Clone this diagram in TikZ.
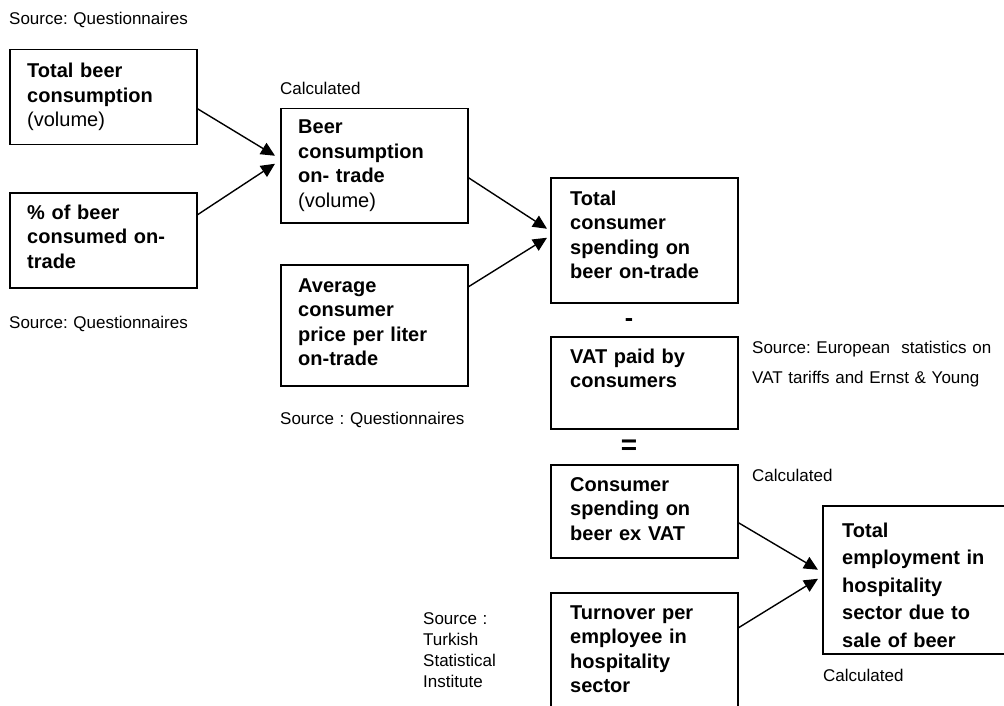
\documentclass[tikz,border=0pt]{standalone}
\usepackage{fontspec}
\setmainfont{Liberation Sans}
\usetikzlibrary{arrows.meta}
\frenchspacing
\begin{document}
\begin{tikzpicture}[x=1pt,y=-1pt,
  box/.style={draw, line width=1.5pt, inner sep=0pt, anchor=north west},
  btxt/.style={anchor=base west, inner sep=0pt, align=left, text width=220pt,
    font=\fontsize{20}{24.5}\selectfont\bfseries},
  wide/.style={font=\fontsize{20}{27.5}\selectfont\bfseries},
  stxt/.style={anchor=base west, inner sep=0pt, align=left, text width=260pt,
    font=\fontsize{17}{21}\selectfont},
  conn/.style={line width=1.4pt, -{Triangle[length=14pt,width=13pt]}}]
\useasboundingbox (0,0) rectangle (1004,706);
\clip (0,0) rectangle (1004,706);
\fill[white] (0,0) rectangle (1004,706);

% boxes
\node[box, minimum width=187pt, minimum height=95pt] (b1) at (9,49) {};
\node[box, minimum width=187pt, minimum height=95pt] (b2) at (9,192) {};
\node[box, minimum width=187pt, minimum height=114pt] (b3) at (280,108) {};
\node[box, minimum width=187pt, minimum height=121pt] (b4) at (280,264) {};
\node[box, minimum width=187pt, minimum height=125pt] (b5) at (550,177) {};
\node[box, minimum width=187pt, minimum height=92pt] (b6) at (550,336) {};
\node[box, minimum width=187pt, minimum height=93pt] (b7) at (550,464) {};
\node[box, minimum width=187pt, minimum height=130pt] (b8) at (550,592) {};
\node[box, minimum width=200pt, minimum height=148pt] (b9) at (822,505) {};

% box texts
\node[btxt] (t1) at (27,78) {Total beer\\consumption\\{\mdseries(volume)}};
\node[btxt] (t2) at (27,219) {\% of beer\\consumed on-\\trade};
\node[btxt] (t3) at (298,134) {Beer\\consumption\\on- trade\\{\mdseries(volume)}};
\node[btxt] (t4) at (298,292) {Average\\consumer\\price per liter\\on-trade};
\node[btxt] (t5) at (570,205) {Total\\consumer\\spending on\\beer on-trade};
\node[btxt] (t6) at (570,363) {VAT paid by\\consumers};
\node[btxt] (t7) at (570,491) {Consumer\\spending on\\beer ex VAT};
\node[btxt] (t8) at (570,619) {Turnover per\\employee in\\hospitality\\sector};
\node[btxt, wide] (t9) at (842,537) {Total\\employment in\\hospitality\\sector due to\\sale of beer};

% operators
\node[inner sep=0pt, font=\fontsize{25}{25}\selectfont\bfseries] (minus) at (629,323) {-};
\node[inner sep=0pt, font=\fontsize{28}{28}\selectfont\bfseries] (equals) at (629,447) {=};

% source labels
\node[stxt] (s1) at (9,25) {Source: Questionnaires};
\node[stxt] (s2) at (9,328) {Source: Questionnaires};
\node[stxt] (s3) at (280,95) {Calculated};
\node[stxt] (s4) at (280,424) {Source : Questionnaires};
\node[stxt, font=\fontsize{17}{30}\selectfont] (s5) at (752,353) {Source: European\ \ statistics on\\VAT tariffs and Ernst \& Young};
\node[stxt] (s6) at (752,481) {Calculated};
\node[stxt] (s7) at (823,681) {Calculated};
\node[stxt] (s8) at (423,624) {Source :\\Turkish\\Statistical\\Institute};

% connectors
\draw[conn] ([yshift=-11.5pt]b1.east) -- ([xshift=-5pt,yshift=10pt]b3.west);
\draw[conn] ([yshift=25.5pt]b2.east) -- ([xshift=-5pt,yshift=2pt]b3.west);
\draw[conn] ([yshift=-12pt]b3.east) -- ([xshift=-3pt,yshift=11.5pt]b5.west);
\draw[conn] ([yshift=38.5pt]b4.east) -- ([xshift=-3pt,yshift=2.5pt]b5.west);
\draw[conn] ([yshift=-11.5pt]b7.east) -- ([xshift=-4pt,yshift=10pt]b9.west);
\draw[conn] ([yshift=30pt]b8.east) -- ([xshift=-4pt,yshift=1pt]b9.west);
\end{tikzpicture}
\end{document}
